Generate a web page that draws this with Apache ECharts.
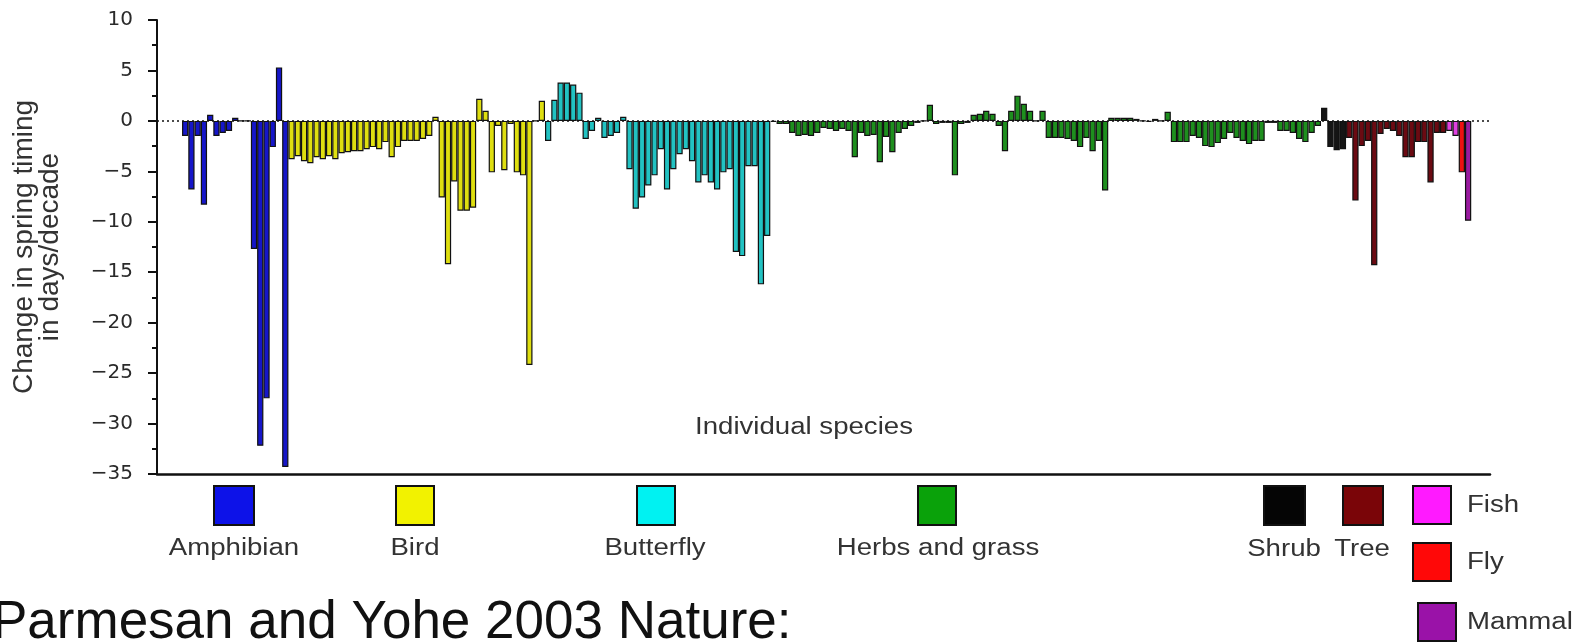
<!DOCTYPE html>
<html>
<head>
<meta charset="utf-8">
<script src="https://cdn.jsdelivr.net/npm/echarts@6/dist/echarts.min.js"></script>
<style>
  html, body { margin: 0; padding: 0; background: #ffffff; }
  #chart { width: 1577px; height: 642px; }
</style>
</head>
<body>
<div id="chart"></div>
<script>
// Change in spring timing (days/decade) for individual species, grouped by taxon
const amphibian = [-1.5, -6.8, -1.5, -8.3, 0.6, -1.5, -1.2, -1.0, 0.3, 0, 0, -12.7, -32.2, -27.5, -2.6, 5.3, -34.3];
const bird = [-3.8, -3.5, -4.0, -4.2, -3.6, -3.8, -3.5, -3.8, -3.2, -3.1, -3.0, -3.0, -2.8, -2.6, -2.8, -2.1,
  -3.6, -2.6, -2.0, -2.0, -2.0, -1.8, -1.5, 0.4, -7.6, -14.2, -6.0, -8.9, -8.9, -8.6, 2.2, 1.0,
  -5.1, -0.5, -4.9, -0.3, -5.1, -5.4, -24.2, 0, 2.0];
const butterfly = [-2.0, 2.1, 3.8, 3.8, 3.6, 2.8, -1.8, -1.0, 0.3, -1.7, -1.5, -1.2, 0.4, -4.8, -8.7,
  -7.6, -6.4, -5.4, -2.8, -6.8, -4.8, -3.3, -2.8, -4.0, -6.1, -5.4, -6.1, -6.8, -5.1, -4.8, -13.0,
  -13.4, -4.5, -4.5, -16.2, -11.4];
const herbs = [-0.1, -0.3, -0.3, -1.2, -1.5, -1.4, -1.5, -1.2,
  -0.7, -0.8, -1.0, -0.8, -1.0, -3.6, -1.2, -1.5, -1.4, -4.1, -1.6, -3.1, -1.2, -0.8, -0.5, -0.2, 0,
  1.6, -0.3, -0.2, -0.2, -5.4, -0.3, -0.2, 0.6, 0.7, 1.0, 0.7, -0.5, -3.0, 1.0, 2.5, 1.7, 1.0, 0, 1.0, -1.7,
  -1.7, -1.7, -1.8, -2.0, -2.6, -1.7, -3.0, -2.0, -6.9, 0.3, 0.3, 0.3, 0.3, 0.2, 0, -0.1, 0.2, 0, 0.9,
  -2.1, -2.1, -2.1, -1.5, -1.7, -2.5, -2.6, -2.2, -1.8, -1.2, -1.7, -2.0, -2.3, -2.0, -2.0,
  -0.2, -0.2, -1.0, -1.0, -1.2, -1.8, -2.1, -1.2, -0.5];
const shrub = [1.3, -2.6, -2.9, -2.8];
const tree = [-1.7, -7.9, -2.5, -2.0, -14.3, -1.3, -0.8, -1.0, -1.5, -3.6, -3.6, -2.1, -2.1, -6.1, -1.2, -1.2];
const fish = [-1.0, -1.5];
const fly = [-5.1];
const mammal = [-9.9];

const groupNames = ['Amphibian', 'Bird', 'Butterfly', 'Herbs and grass', 'Shrub', 'Tree', 'Fish', 'Fly', 'Mammal'];
const groupValues = [amphibian, bird, butterfly, herbs, shrub, tree, fish, fly, mammal];
const barColors = ['#1616c8', '#dede10', '#22c2c2', '#1e8f1e', '#151515', '#6b0a12', '#e040e0', '#ee1111', '#9a1aa0'];
const swatchColors = ['#0d12e8', '#f2f200', '#00f2f2', '#0aa20a', '#050505', '#7a0508', '#ff1aff', '#ff0808', '#9a12a8'];

const yMin = -35, yMax = 10, yStep = 5;
const padLeft = 4, padRight = 3; // empty category slots either side of the bars

// Build the bar data (one category per species, coloured by group)
const categories = [];
const barData = [];
for (let i = 0; i < padLeft; i++) { categories.push('pad-l' + i); barData.push(null); }
groupValues.forEach((vals, g) => {
  vals.forEach((v, k) => {
    categories.push(groupNames[g] + ' ' + (k + 1));
    barData.push({ value: v, itemStyle: { color: barColors[g] } });
  });
});
for (let i = 0; i < padRight; i++) { categories.push('pad-r' + i); barData.push(null); }

const font = 'Liberation Sans, Arial, Helvetica, sans-serif';
const textColor = '#333333';

// Legend swatches and labels
const graphics = [];
function swatch(x, y, w, h, color) {
  graphics.push({
    type: 'rect', shape: { x: x, y: y, width: w, height: h },
    style: { fill: color, stroke: '#111111', lineWidth: 2 }, silent: true
  });
}
function label(text, x, y, align, size, sx) {
  graphics.push({
    type: 'text', x: x, y: y, scaleX: sx || 1,
    style: { text: text, fill: textColor, font: size + 'px ' + font, textAlign: align, textVerticalAlign: 'middle' },
    silent: true
  });
}
const below = [
  { i: 0, x: 214, w: 40, cx: 234 },
  { i: 1, x: 396, w: 38, cx: 415 },
  { i: 2, x: 637, w: 38, cx: 655 },
  { i: 3, x: 918, w: 38, cx: 938 },
  { i: 4, x: 1264, w: 41, cx: 1284 },
  { i: 5, x: 1343, w: 40, cx: 1362 }
];
below.forEach(b => {
  swatch(b.x, 486, b.w, 39, swatchColors[b.i]);
  label(groupNames[b.i], b.cx, b.i >= 4 ? 550 : 549, 'center', 23, 1.2);
});
const side = [
  { i: 6, x: 1413, y: 486 },
  { i: 7, x: 1413, y: 543 },
  { i: 8, x: 1418, y: 603 }
];
side.forEach(s => {
  swatch(s.x, s.y, 38, 38, swatchColors[s.i]);
  label(groupNames[s.i], 1467, s.y + 20, 'left', 23, 1.2);
});
label('Individual species', 804, 428, 'center', 23, 1.2);
graphics.push({
  type: 'text', x: -8, y: 623,
  style: { text: 'Parmesan and Yohe 2003 Nature:', fill: '#111111', font: '53px ' + font,
    textAlign: 'left', textVerticalAlign: 'middle' },
  silent: true
});

const chart = echarts.init(document.getElementById('chart'), null, { renderer: 'canvas' });
chart.setOption({
  animation: false,
  backgroundColor: '#ffffff',
  textStyle: { fontFamily: font },
  grid: { left: 157, right: 87, top: 20, bottom: 168, containLabel: false },
  xAxis: {
    type: 'category',
    data: categories,
    boundaryGap: true,
    axisLine: { show: true, onZero: false, lineStyle: { color: '#111111', width: 2.5 } },
    axisTick: { show: false },
    axisLabel: { show: false },
    splitLine: { show: false }
  },
  yAxis: {
    type: 'value',
    min: yMin, max: yMax, interval: yStep,
    name: 'Change in spring timing\nin days/decade',
    nameLocation: 'middle',
    nameGap: 94,
    nameTextStyle: { fontSize: 28, lineHeight: 26, color: textColor, fontFamily: font },
    axisLine: { show: true, lineStyle: { color: '#111111', width: 2 } },
    axisTick: { show: true, inside: false, length: 9, lineStyle: { color: '#111111', width: 2 } },
    minorTick: { show: true, splitNumber: 2, length: 5, lineStyle: { color: '#111111', width: 2 } },
    axisLabel: {
      fontSize: 20, color: '#2a2a2a', margin: 24, fontFamily: 'DejaVu Sans, Liberation Sans, sans-serif',
      formatter: v => (v < 0 ? '\u2212' + Math.abs(v) : String(v))
    },
    splitLine: { show: false }
  },
  series: [{
    type: 'bar',
    data: barData,
    barCategoryGap: '0%',
    itemStyle: { borderColor: '#111111', borderWidth: 1.2 },
    markLine: {
      silent: true,
      symbol: 'none',
      label: { show: false },
      lineStyle: { color: '#111111', type: [2, 3], width: 1.5 },
      data: [{ yAxis: 0 }]
    }
  }],
  graphic: graphics
});
</script>
</body>
</html>
